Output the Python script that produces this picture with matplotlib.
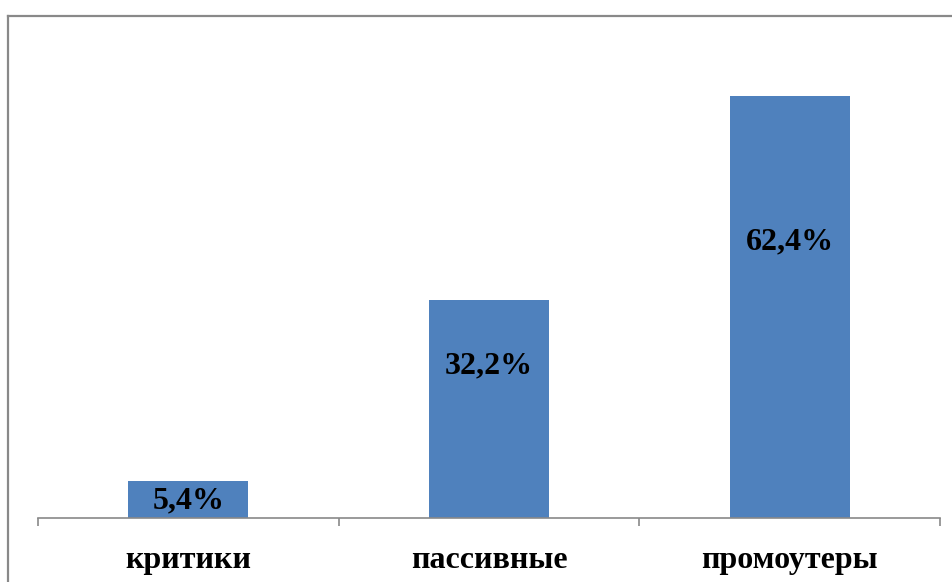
import matplotlib.pyplot as plt
from matplotlib.lines import Line2D

categories = ["критики", "пассивные", "промоутеры"]
values = [5.4, 32.2, 62.4]
value_labels = ["5,4%", "32,2%", "62,4%"]
# where each value label sits, as a share of its bar height
label_frac = [0.48, 0.70, 0.655]

bar_color = "#4F81BD"
grey = "#898989"

fig = plt.figure(figsize=(9.53, 5.82), dpi=100)
ax = fig.add_axes([38 / 953, 64 / 582, 902 / 953, 501 / 582])

x = list(range(len(categories)))
ax.bar(x, values, width=0.4, color=bar_color, zorder=2)

for xi, v, lab, f in zip(x, values, value_labels, label_frac):
    ax.text(xi, v * f, lab, ha="center", va="center",
            family="Liberation Serif", fontweight="bold", fontsize=23, color="black")

ax.set_xlim(-0.5, 2.5)
ax.set_ylim(0, 74.1)

for s in ["top", "right", "left"]:
    ax.spines[s].set_visible(False)
ax.spines["bottom"].set_color(grey)
ax.spines["bottom"].set_linewidth(1.2)
ax.set_yticks([])

ax.set_xticks(x)
ax.set_xticklabels(categories, family="Liberation Serif", fontweight="bold", fontsize=23)
ax.tick_params(axis="x", which="major", length=0, pad=20.5)
ax.set_xticks([-0.5, 0.5, 1.5, 2.5], minor=True)
ax.tick_params(axis="x", which="minor", length=6, width=1.2, color=grey)

# outer chart frame
fig.add_artist(Line2D([8.5 / 953, 1.0], [1 - 15.5 / 582] * 2, transform=fig.transFigure,
                      color=grey, linewidth=1.6))
fig.add_artist(Line2D([8.5 / 953] * 2, [0, 1 - 15.5 / 582], transform=fig.transFigure,
                      color=grey, linewidth=1.6))

fig.savefig("out.png", dpi=100)
